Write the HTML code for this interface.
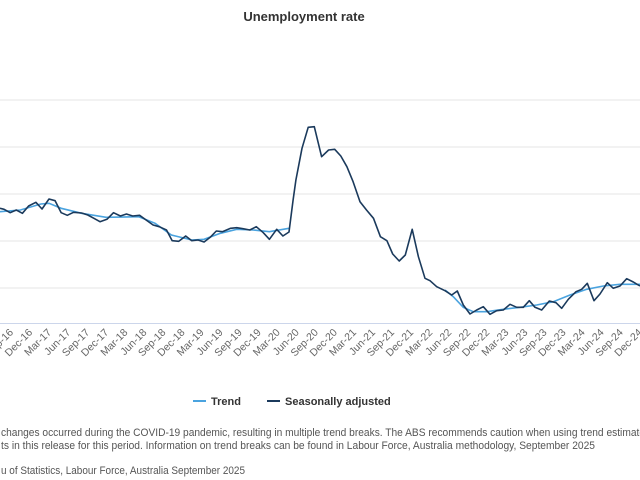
<!DOCTYPE html>
<html><head><meta charset="utf-8"><style>
html,body{margin:0;padding:0;background:#fff;width:640px;height:480px;overflow:hidden}
svg{display:block;font-family:"Liberation Sans",sans-serif}
</style></head><body>
<svg id="s" width="640" height="480" viewBox="0 0 640 480" xmlns="http://www.w3.org/2000/svg">
<text x="304" y="21" text-anchor="middle" font-size="13" font-weight="bold" fill="#333">Unemployment rate</text>
<g stroke="#e6e6e6" stroke-width="1">
<line x1="0" y1="100" x2="640" y2="100"/><line x1="0" y1="147" x2="640" y2="147"/>
<line x1="0" y1="194" x2="640" y2="194"/><line x1="0" y1="241" x2="640" y2="241"/>
<line x1="0" y1="288" x2="640" y2="288"/></g>
<line x1="0" y1="323.5" x2="640" y2="323.5" stroke="#ccd6eb" stroke-width="1"/>
<g id="lab" font-size="10.5" fill="#666"></g>
<polyline id="tr1" fill="none" stroke="#4aa3df" stroke-width="1.6"/>
<polyline id="tr2" fill="none" stroke="#4aa3df" stroke-width="1.6"/>
<polyline id="sa" fill="none" stroke="#1b3a5c" stroke-width="1.6" stroke-linejoin="round"/>
<line x1="193" y1="401" x2="206" y2="401" stroke="#4aa3df" stroke-width="2"/>
<text x="211" y="405" font-size="11" font-weight="bold" fill="#333">Trend</text>
<line x1="267" y1="401" x2="280" y2="401" stroke="#1b3a5c" stroke-width="2"/>
<text x="285" y="405" font-size="11" font-weight="bold" fill="#333">Seasonally adjusted</text>
<g font-size="11" fill="#555">
<text x="1" y="436" textLength="644" lengthAdjust="spacingAndGlyphs">changes occurred during the COVID-19 pandemic, resulting in multiple trend breaks. The ABS recommends caution when using trend estimate</text>
<text x="1" y="449" textLength="594" lengthAdjust="spacingAndGlyphs">ts in this release for this period. Information on trend breaks can be found in Labour Force, Australia methodology, September 2025</text>
<text x="1" y="474" textLength="244" lengthAdjust="spacingAndGlyphs">u of Statistics, Labour Force, Australia September 2025</text>
</g>
</svg>
<script>
var z2=[0,325,10,328,25,338,40,330,55,340,70,318,88,307,103,327,120,297,135,302,150,338,165,346,180,337,200,339,215,345,230,355,245,365,262,358,278,338,295,348,310,342,325,348,342,346,358,360,375,375,390,380,408,390,422,422,438,424,455,408,470,422,485,420,500,426,515,412,530,393,545,395,565,385,580,383,595,386,612,390,628,380,645,398,660,418,678,388,693,408,708,396,718,300,725,240,740,145,755,82,770,80,788,170,805,150,820,148,835,168,850,200,865,245,882,305,898,330,915,355,932,410,948,422,962,462,978,483,993,465,1010,388,1025,470];
var z4=[15,175,30,182,50,200,75,212,95,225,112,213,130,255,150,282,170,270,190,260,210,283,230,272,250,270,270,253,290,262,310,262,328,242,345,262,365,270,388,243,408,248,425,265,445,238,468,215,485,208,502,190,522,242,540,222,562,188,580,205,600,198,620,176,640,186,660,198];
var t1=[0,335,50,330,100,312,120,310,150,325,200,340,260,352,340,350,380,370,420,405,470,420,500,418,540,400,580,388,620,390,660,395,708,385];
var t2=[75,210,100,230,130,262,160,275,200,275,250,268,300,262,350,255,400,245,450,225,500,208,550,198,600,193,660,193];
function a(z,f){var p=[];for(var i=0;i<z.length;i+=2){p.push(f(z[i],z[i+1]).map(function(v){return v.toFixed(1)}).join(','));}return p;}
var f2=function(x,y){return [x/2.45,y/3+100]},f4=function(x,y){return [420+x/3,220+y/3]};
document.getElementById('sa').setAttribute('points',a(z2,f2).concat(a(z4,f4)).join(' '));
document.getElementById('tr1').setAttribute('points',a(t1,f2).join(' '));
document.getElementById('tr2').setAttribute('points',a(t2,f4).join(' '));
var mo=['Sep','Dec','Mar','Jun'],g=document.getElementById('lab'),h='';
for(var k=0;k<=33;k++){var m=mo[k%4];var yr=16+Math.floor((k+2)/4);var x=33+(k-1)*19.05;
h+='<text x="'+x.toFixed(1)+'" y="333" text-anchor="end" transform="rotate(-45 '+x.toFixed(1)+' 333)">'+m+'-'+yr+'</text>';}
g.innerHTML=h;
</script>
</body></html>
